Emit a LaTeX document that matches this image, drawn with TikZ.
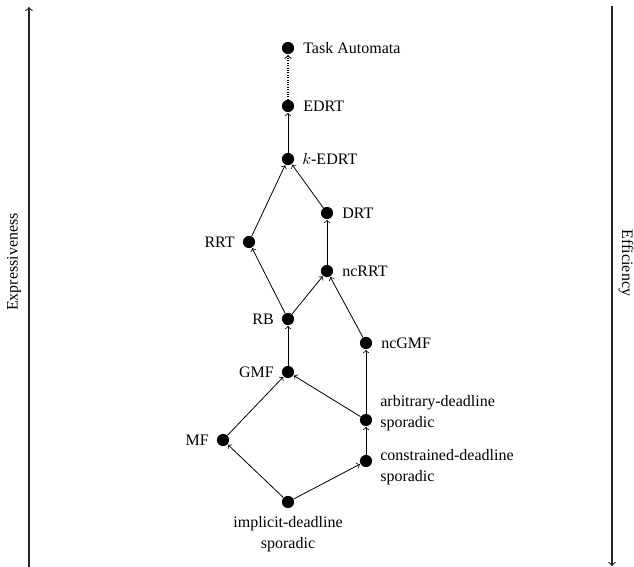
\documentclass[tikz,border=0pt]{standalone}
\usepackage{fontspec}
\setmainfont{Liberation Serif}
\begin{document}
\begin{tikzpicture}[x=0.625pt,y=-0.625pt,
  dot/.style={circle,fill=black,inner sep=0pt,minimum size=7.6pt},
  rel/.style={->,>=to,line width=0.5pt,shorten >=0.3pt},
  axis/.style={->,>=to,line width=0.75pt,draw=black!85},
  lbl/.style={font=\fontsize{10}{12}\selectfont,inner sep=0pt},
  lbltwo/.style={lbl,align=left,font=\fontsize{10}{13}\selectfont}]
\useasboundingbox (0,0) rectangle (634,567);

% side axes
\draw[axis] (29,567) coordinate (eb) -- (29,7) coordinate (et);
\draw[axis] (612,6) coordinate (fb) -- (612,566) coordinate (ft);
\node[lbl,rotate=90] (expr) at (14,262) {Expressiveness};
\node[lbl,rotate=-90] (effi) at (626,263) {Efficiency};

% model nodes
\node[dot] (ta) at (288,48) {};
\node[dot] (edrt) at (288,106) {};
\node[dot] (kedrt) at (288,159) {};
\node[dot] (drt) at (327,213) {};
\node[dot] (rrt) at (249,242) {};
\node[dot] (ncrrt) at (327,271) {};
\node[dot] (rb) at (288,319) {};
\node[dot] (ncgmf) at (366,343) {};
\node[dot] (gmf) at (288,372) {};
\node[dot] (arb) at (366,420) {};
\node[dot] (mf) at (223,440) {};
\node[dot] (con) at (366,461) {};
\node[dot] (imp) at (288,502) {};

% labels
\node[lbl,anchor=west] (lta) at (303,48) {Task Automata};
\node[lbl,anchor=west] (ledrt) at (303,106) {EDRT};
\node[lbl,anchor=west] (lkedrt) at (302,159) {$k$-EDRT};
\node[lbl,anchor=west] (ldrt) at (342,213) {DRT};
\node[lbl,anchor=east] (lrrt) at (235,242) {RRT};
\node[lbl,anchor=west] (lncrrt) at (342,271) {ncRRT};
\node[lbl,anchor=east] (lrb) at (274,319) {RB};
\node[lbl,anchor=west] (lncgmf) at (381,343) {ncGMF};
\node[lbl,anchor=east] (lgmf) at (274,372) {GMF};
\node[lbltwo,anchor=west] (larb) at (380,413) {arbitrary-deadline\\sporadic};
\node[lbl,anchor=east] (lmf) at (209,440) {MF};
\node[lbltwo,anchor=west] (lcon) at (380,467) {constrained-deadline\\sporadic};
\node[lbltwo,align=center,anchor=north] (limp) at (288,516) {implicit-deadline\\sporadic};

% relations
\draw[rel,densely dotted,line width=0.7pt] (edrt) -- (ta);
\draw[rel] (kedrt) -- (edrt);
\draw[rel] (rrt) -- (kedrt);
\draw[rel] (drt) -- (kedrt);
\draw[rel] (ncrrt) -- (drt);
\draw[rel] (rb) -- (rrt);
\draw[rel] (rb) -- (ncrrt);
\draw[rel] (ncgmf) -- (ncrrt);
\draw[rel] (gmf) -- (rb);
\draw[rel] (arb) -- (ncgmf);
\draw[rel] (arb) -- (gmf);
\draw[rel] (mf) -- (gmf);
\draw[rel] (con) -- (arb);
\draw[rel] (imp) -- (mf);
\draw[rel] (imp) -- (con);
\end{tikzpicture}
\end{document}
